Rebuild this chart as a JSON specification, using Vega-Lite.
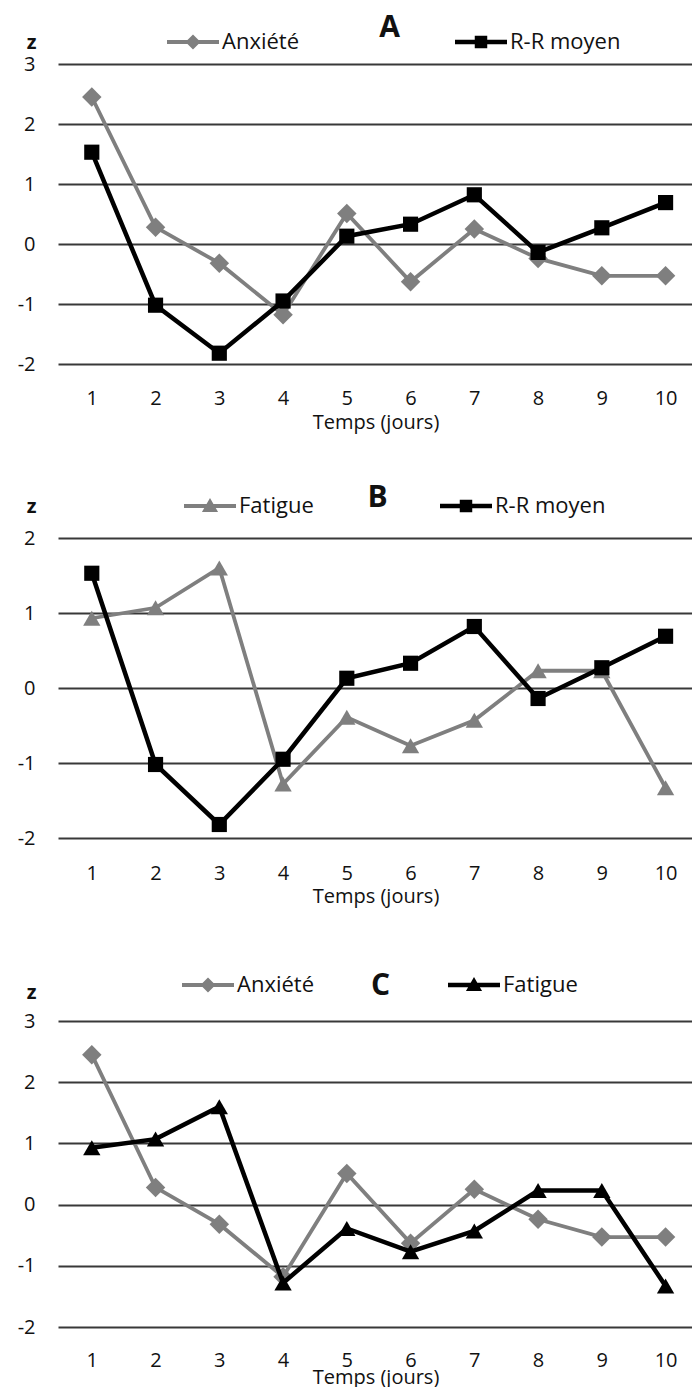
{
  "$schema": "https://vega.github.io/schema/vega-lite/v6.json",
  "background": "white",
  "padding": {"left": 17, "top": 13, "right": 0, "bottom": 0},
  "spacing": 48,
  "config": {
    "font": "Open Sans",
    "view": {"stroke": null},
    "axis": {
      "labelFont": "Open Sans", "labelFontSize": 20, "labelColor": "#111",
      "titleFont": "Open Sans", "titleFontSize": 20, "titleColor": "#111", "titleFontWeight": "normal",
      "domain": false, "ticks": false, "gridColor": "#383838", "gridWidth": 2, "gridOpacity": 1,
      "labelExpr": "replace(datum.label, '−', '-')"
    },
    "axisX": {"grid": false, "labelPadding": 24, "titlePadding": 4},
    "axisY": {"grid": true, "labelPadding": 23},
    "legend": {"labelFont": "Open Sans", "labelFontSize": 22, "labelColor": "#111", "symbolSize": 2704, "labelOffset": 3, "padding": 0, "symbolStrokeWidth": 0, "title": null, "orient": "none", "direction": "horizontal", "columns": 2}
  },
  "datasets": {
    "z": [
      {"panel": "A", "serie": "Anxiété", "jour": 1, "z": 2.45},
      {"panel": "A", "serie": "Anxiété", "jour": 2, "z": 0.28},
      {"panel": "A", "serie": "Anxiété", "jour": 3, "z": -0.32},
      {"panel": "A", "serie": "Anxiété", "jour": 4, "z": -1.18},
      {"panel": "A", "serie": "Anxiété", "jour": 5, "z": 0.51},
      {"panel": "A", "serie": "Anxiété", "jour": 6, "z": -0.63},
      {"panel": "A", "serie": "Anxiété", "jour": 7, "z": 0.25},
      {"panel": "A", "serie": "Anxiété", "jour": 8, "z": -0.24},
      {"panel": "A", "serie": "Anxiété", "jour": 9, "z": -0.53},
      {"panel": "A", "serie": "Anxiété", "jour": 10, "z": -0.53},
      {"panel": "A", "serie": "R-R moyen", "jour": 1, "z": 1.53},
      {"panel": "A", "serie": "R-R moyen", "jour": 2, "z": -1.02},
      {"panel": "A", "serie": "R-R moyen", "jour": 3, "z": -1.82},
      {"panel": "A", "serie": "R-R moyen", "jour": 4, "z": -0.95},
      {"panel": "A", "serie": "R-R moyen", "jour": 5, "z": 0.13},
      {"panel": "A", "serie": "R-R moyen", "jour": 6, "z": 0.33},
      {"panel": "A", "serie": "R-R moyen", "jour": 7, "z": 0.82},
      {"panel": "A", "serie": "R-R moyen", "jour": 8, "z": -0.14},
      {"panel": "A", "serie": "R-R moyen", "jour": 9, "z": 0.27},
      {"panel": "A", "serie": "R-R moyen", "jour": 10, "z": 0.69},
      {"panel": "B", "serie": "Fatigue", "jour": 1, "z": 0.93},
      {"panel": "B", "serie": "Fatigue", "jour": 2, "z": 1.07},
      {"panel": "B", "serie": "Fatigue", "jour": 3, "z": 1.6},
      {"panel": "B", "serie": "Fatigue", "jour": 4, "z": -1.28},
      {"panel": "B", "serie": "Fatigue", "jour": 5, "z": -0.39},
      {"panel": "B", "serie": "Fatigue", "jour": 6, "z": -0.77},
      {"panel": "B", "serie": "Fatigue", "jour": 7, "z": -0.43},
      {"panel": "B", "serie": "Fatigue", "jour": 8, "z": 0.23},
      {"panel": "B", "serie": "Fatigue", "jour": 9, "z": 0.23},
      {"panel": "B", "serie": "Fatigue", "jour": 10, "z": -1.33},
      {"panel": "B", "serie": "R-R moyen", "jour": 1, "z": 1.53},
      {"panel": "B", "serie": "R-R moyen", "jour": 2, "z": -1.02},
      {"panel": "B", "serie": "R-R moyen", "jour": 3, "z": -1.82},
      {"panel": "B", "serie": "R-R moyen", "jour": 4, "z": -0.95},
      {"panel": "B", "serie": "R-R moyen", "jour": 5, "z": 0.13},
      {"panel": "B", "serie": "R-R moyen", "jour": 6, "z": 0.33},
      {"panel": "B", "serie": "R-R moyen", "jour": 7, "z": 0.82},
      {"panel": "B", "serie": "R-R moyen", "jour": 8, "z": -0.14},
      {"panel": "B", "serie": "R-R moyen", "jour": 9, "z": 0.27},
      {"panel": "B", "serie": "R-R moyen", "jour": 10, "z": 0.69},
      {"panel": "C", "serie": "Anxiété", "jour": 1, "z": 2.45},
      {"panel": "C", "serie": "Anxiété", "jour": 2, "z": 0.28},
      {"panel": "C", "serie": "Anxiété", "jour": 3, "z": -0.32},
      {"panel": "C", "serie": "Anxiété", "jour": 4, "z": -1.18},
      {"panel": "C", "serie": "Anxiété", "jour": 5, "z": 0.51},
      {"panel": "C", "serie": "Anxiété", "jour": 6, "z": -0.63},
      {"panel": "C", "serie": "Anxiété", "jour": 7, "z": 0.25},
      {"panel": "C", "serie": "Anxiété", "jour": 8, "z": -0.24},
      {"panel": "C", "serie": "Anxiété", "jour": 9, "z": -0.53},
      {"panel": "C", "serie": "Anxiété", "jour": 10, "z": -0.53},
      {"panel": "C", "serie": "Fatigue", "jour": 1, "z": 0.93},
      {"panel": "C", "serie": "Fatigue", "jour": 2, "z": 1.07},
      {"panel": "C", "serie": "Fatigue", "jour": 3, "z": 1.6},
      {"panel": "C", "serie": "Fatigue", "jour": 4, "z": -1.28},
      {"panel": "C", "serie": "Fatigue", "jour": 5, "z": -0.39},
      {"panel": "C", "serie": "Fatigue", "jour": 6, "z": -0.77},
      {"panel": "C", "serie": "Fatigue", "jour": 7, "z": -0.43},
      {"panel": "C", "serie": "Fatigue", "jour": 8, "z": 0.23},
      {"panel": "C", "serie": "Fatigue", "jour": 9, "z": 0.23},
      {"panel": "C", "serie": "Fatigue", "jour": 10, "z": -1.33}
    ]
  },
  "resolve": {
    "scale": {"x": "independent", "y": "independent", "color": "independent"},
    "legend": {"color": "independent"}
  },
  "vconcat": [
    {
      "width": 635, "height": 300,
      "data": {"name": "z"},
      "transform": [{"filter": "datum.panel === 'A'"}],
      "title": {"text": "A", "fontSize": 30, "fontWeight": "bold", "anchor": "middle", "dx": 14, "color": "#111", "offset": -27},
      "encoding": {
        "x": {"field": "jour", "type": "quantitative", "scale": {"domain": [0.47, 10.43], "nice": false, "zero": false},
              "axis": {"values": [1,2,3,4,5,6,7,8,9,10], "format": "d", "title": "Temps (jours)"}},
        "y": {"field": "z", "type": "quantitative", "scale": {"domain": [-2, 3], "nice": false, "zero": false},
              "axis": {"values": [-2,-1,0,1,2,3], "format": "d", "title": "z", "titleAngle": 0, "titleX": -27, "titleY": -22, "titleAlign": "center", "titleBaseline": "middle", "titleFontWeight": "bold"}},
        "color": {"field": "serie", "type": "nominal", "scale": {"domain": ["Anxiété", "R-R moyen"], "range": ["#7f7f7f", "#000000"]},
                  "legend": {"legendX": 109, "legendY": -48, "columnPadding": 155, "symbolSize": 2704,
                             "encode": {"symbols": {"update": {
                               "shape": {"signal": "datum.value === 'R-R moyen' ? 'M-1,-0.09L1,-0.09L1,0.09L-1,0.09Z M-0.24,-0.24L0.24,-0.24L0.24,0.24L-0.24,0.24Z' : 'M-1,-0.08L1,-0.08L1,0.08L-1,0.08Z M0,-0.29L0.29,0L0,0.29L-0.29,0Z'"},
                               "fill": {"signal": "datum.value === 'R-R moyen' ? '#000000' : '#7f7f7f'"},
                               "size": {"value": 2704},
                               "strokeWidth": {"value": 0},
                               "opacity": {"value": 1}}}}}}
      },
      "layer": [
        {"transform": [{"filter": "datum.serie === 'Anxiété'"}], "mark": {"type": "line", "strokeWidth": 3.8}},
        {"transform": [{"filter": "datum.serie === 'Anxiété'"}], "mark": {"type": "point", "filled": true, "opacity": 1, "shape": "diamond", "size": 380}},
        {"transform": [{"filter": "datum.serie === 'R-R moyen'"}], "mark": {"type": "line", "strokeWidth": 4.5}},
        {"transform": [{"filter": "datum.serie === 'R-R moyen'"}], "mark": {"type": "point", "filled": true, "opacity": 1, "shape": "square", "size": 230}}
      ]
    },
    {
      "spacing": 53,
      "resolve": {
        "scale": {"x": "independent", "y": "independent", "color": "independent"},
        "legend": {"color": "independent"}
      },
      "vconcat": [
        {
          "width": 635, "height": 300,
          "data": {"name": "z"},
          "transform": [{"filter": "datum.panel === 'B'"}],
          "title": {"text": "B", "fontSize": 30, "fontWeight": "bold", "anchor": "middle", "dx": 2, "color": "#111", "offset": -33},
          "encoding": {
            "x": {"field": "jour", "type": "quantitative", "scale": {"domain": [0.47, 10.43], "nice": false, "zero": false},
                  "axis": {"values": [1,2,3,4,5,6,7,8,9,10], "format": "d", "title": "Temps (jours)", "labelPadding": 25, "titlePadding": 3}},
            "y": {"field": "z", "type": "quantitative", "scale": {"domain": [-2, 2], "nice": false, "zero": false},
                  "axis": {"values": [-2,-1,0,1,2], "format": "d", "title": "z", "titleAngle": 0, "titleX": -27, "titleY": -32, "titleAlign": "center", "titleBaseline": "middle", "titleFontWeight": "bold"}},
            "color": {"field": "serie", "type": "nominal", "scale": {"domain": ["Fatigue", "R-R moyen"], "range": ["#7f7f7f", "#000000"]},
                      "legend": {"legendX": 126, "legendY": -58, "columnPadding": 126, "symbolSize": 2704,
                                 "encode": {"symbols": {"update": {
                                   "shape": {"signal": "datum.value === 'R-R moyen' ? 'M-1,-0.09L1,-0.09L1,0.09L-1,0.09Z M-0.24,-0.24L0.24,-0.24L0.24,0.24L-0.24,0.24Z' : 'M-1,-0.08L1,-0.08L1,0.08L-1,0.08Z M0,-0.31L0.31,0.23L-0.31,0.23Z'"},
                                   "fill": {"signal": "datum.value === 'R-R moyen' ? '#000000' : '#7f7f7f'"},
                                   "size": {"value": 2704},
                                   "strokeWidth": {"value": 0},
                                   "opacity": {"value": 1}}}}}}
          },
          "layer": [
            {"transform": [{"filter": "datum.serie === 'Fatigue'"}], "mark": {"type": "line", "strokeWidth": 3.8}},
            {"transform": [{"filter": "datum.serie === 'Fatigue'"}], "mark": {"type": "point", "filled": true, "opacity": 1, "shape": "triangle-up", "size": 300}},
            {"transform": [{"filter": "datum.serie === 'R-R moyen'"}], "mark": {"type": "line", "strokeWidth": 4.5}},
            {"transform": [{"filter": "datum.serie === 'R-R moyen'"}], "mark": {"type": "point", "filled": true, "opacity": 1, "shape": "square", "size": 230}}
          ]
        },
        {
          "width": 635, "height": 306,
          "data": {"name": "z"},
          "transform": [{"filter": "datum.panel === 'C'"}],
          "title": {"text": "C", "fontSize": 30, "fontWeight": "bold", "anchor": "middle", "dx": 5, "color": "#111", "offset": -42},
          "encoding": {
            "x": {"field": "jour", "type": "quantitative", "scale": {"domain": [0.47, 10.43], "nice": false, "zero": false},
                  "axis": {"values": [1,2,3,4,5,6,7,8,9,10], "format": "d", "title": "Temps (jours)", "labelPadding": 23, "titlePadding": -3}},
            "y": {"field": "z", "type": "quantitative", "scale": {"domain": [-2, 3], "nice": false, "zero": false},
                  "axis": {"values": [-2,-1,0,1,2,3], "format": "d", "title": "z", "titleAngle": 0, "titleX": -27, "titleY": -29, "titleAlign": "center", "titleBaseline": "middle", "titleFontWeight": "bold"}},
            "color": {"field": "serie", "type": "nominal", "scale": {"domain": ["Anxiété", "Fatigue"], "range": ["#7f7f7f", "#000000"]},
                      "legend": {"legendX": 124, "legendY": -62, "columnPadding": 133, "symbolSize": 2704,
                                 "encode": {"symbols": {"update": {
                                   "shape": {"signal": "datum.value === 'Fatigue' ? 'M-1,-0.09L1,-0.09L1,0.09L-1,0.09Z M0,-0.31L0.31,0.23L-0.31,0.23Z' : 'M-1,-0.08L1,-0.08L1,0.08L-1,0.08Z M0,-0.29L0.29,0L0,0.29L-0.29,0Z'"},
                                   "fill": {"signal": "datum.value === 'Fatigue' ? '#000000' : '#7f7f7f'"},
                                   "size": {"value": 2704},
                                   "strokeWidth": {"value": 0},
                                   "opacity": {"value": 1}}}}}}
          },
          "layer": [
            {"transform": [{"filter": "datum.serie === 'Anxiété'"}], "mark": {"type": "line", "strokeWidth": 3.8}},
            {"transform": [{"filter": "datum.serie === 'Anxiété'"}], "mark": {"type": "point", "filled": true, "opacity": 1, "shape": "diamond", "size": 380}},
            {"transform": [{"filter": "datum.serie === 'Fatigue'"}], "mark": {"type": "line", "strokeWidth": 4.5}},
            {"transform": [{"filter": "datum.serie === 'Fatigue'"}], "mark": {"type": "point", "filled": true, "opacity": 1, "shape": "triangle-up", "size": 300}}
          ]
        }
      ]
    }
  ]
}
